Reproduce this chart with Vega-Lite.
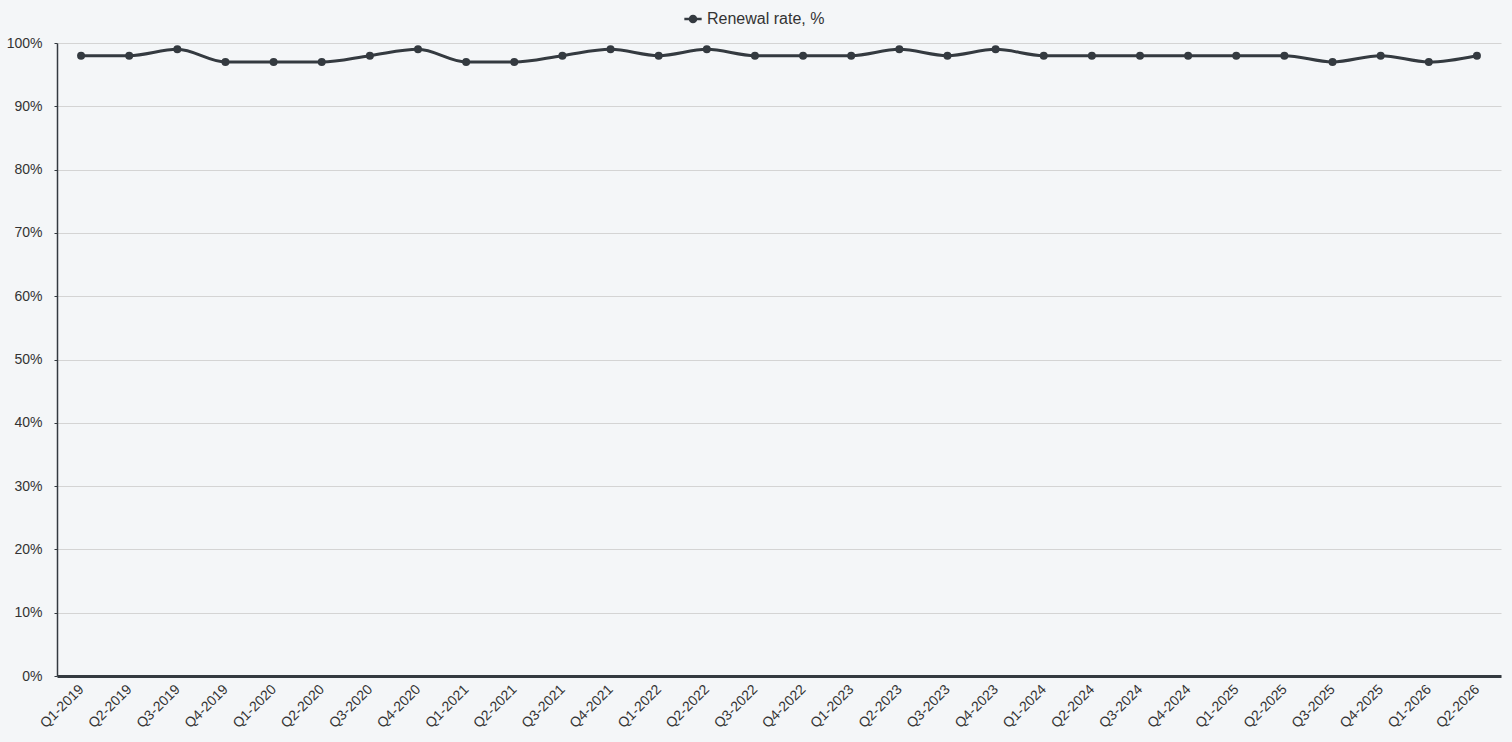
{
  "$schema": "https://vega.github.io/schema/vega-lite/v6.json",
  "autosize": {"type": "none"},
  "width": 1444,
  "height": 633,
  "padding": {"left": 57, "top": 43, "right": 11, "bottom": 66},
  "background": "#f4f6f8",
  "config": {
    "view": {"stroke": null},
    "font": "Liberation Sans"
  },
  "data": {
    "values": [
      {"q": "Q1-2019", "v": 98, "s": "Renewal rate, %"},
      {"q": "Q2-2019", "v": 98, "s": "Renewal rate, %"},
      {"q": "Q3-2019", "v": 99, "s": "Renewal rate, %"},
      {"q": "Q4-2019", "v": 97, "s": "Renewal rate, %"},
      {"q": "Q1-2020", "v": 97, "s": "Renewal rate, %"},
      {"q": "Q2-2020", "v": 97, "s": "Renewal rate, %"},
      {"q": "Q3-2020", "v": 98, "s": "Renewal rate, %"},
      {"q": "Q4-2020", "v": 99, "s": "Renewal rate, %"},
      {"q": "Q1-2021", "v": 97, "s": "Renewal rate, %"},
      {"q": "Q2-2021", "v": 97, "s": "Renewal rate, %"},
      {"q": "Q3-2021", "v": 98, "s": "Renewal rate, %"},
      {"q": "Q4-2021", "v": 99, "s": "Renewal rate, %"},
      {"q": "Q1-2022", "v": 98, "s": "Renewal rate, %"},
      {"q": "Q2-2022", "v": 99, "s": "Renewal rate, %"},
      {"q": "Q3-2022", "v": 98, "s": "Renewal rate, %"},
      {"q": "Q4-2022", "v": 98, "s": "Renewal rate, %"},
      {"q": "Q1-2023", "v": 98, "s": "Renewal rate, %"},
      {"q": "Q2-2023", "v": 99, "s": "Renewal rate, %"},
      {"q": "Q3-2023", "v": 98, "s": "Renewal rate, %"},
      {"q": "Q4-2023", "v": 99, "s": "Renewal rate, %"},
      {"q": "Q1-2024", "v": 98, "s": "Renewal rate, %"},
      {"q": "Q2-2024", "v": 98, "s": "Renewal rate, %"},
      {"q": "Q3-2024", "v": 98, "s": "Renewal rate, %"},
      {"q": "Q4-2024", "v": 98, "s": "Renewal rate, %"},
      {"q": "Q1-2025", "v": 98, "s": "Renewal rate, %"},
      {"q": "Q2-2025", "v": 98, "s": "Renewal rate, %"},
      {"q": "Q3-2025", "v": 97, "s": "Renewal rate, %"},
      {"q": "Q4-2025", "v": 98, "s": "Renewal rate, %"},
      {"q": "Q1-2026", "v": 97, "s": "Renewal rate, %"},
      {"q": "Q2-2026", "v": 98, "s": "Renewal rate, %"}
    ]
  },
  "encoding": {
    "x": {
      "field": "q", "type": "ordinal", "sort": null,
      "scale": {"type": "point", "padding": 0.5},
      "axis": {
        "title": null, "labelAngle": -45, "labelAlign": "right", "labelBaseline": "middle",
        "labelFontSize": 14, "labelColor": "#333333", "labelPadding": 11,
        "ticks": false, "grid": false, "domainColor": "#343a40", "domainWidth": 3
      }
    },
    "y": {
      "field": "v", "type": "quantitative",
      "scale": {"domain": [0, 100], "nice": false},
      "axis": {
        "title": null, "values": [0,10,20,30,40,50,60,70,80,90,100],
        "labelExpr": "datum.value + '%'", "labelFontSize": 14, "labelColor": "#333333",
        "labelPadding": 12, "tickSize": 3, "tickColor": "#343a40",
        "gridColor": "#d4d4d4", "gridWidth": 1, "domainColor": "#343a40", "domainWidth": 1.5
      }
    },
    "color": {
      "field": "s", "type": "nominal",
      "scale": {"range": ["#343a40"]},
      "legend": {
        "title": null, "orient": "none", "legendX": 626, "legendY": -34, "padding": 0,
        "labelFontSize": 16, "labelColor": "#333333",
        "symbolType": "M-1,0L1,0M-0.35,0A0.35,0.35 0 1,1 0.35,0A0.35,0.35 0 1,1 -0.35,0Z",
        "symbolSize": 300, "symbolStrokeWidth": 2.5, "symbolFillColor": "#343a40", "symbolStrokeColor": "#343a40"
      }
    }
  },
  "layer": [
    {"mark": {"type": "line", "interpolate": "monotone", "strokeWidth": 3}},
    {"mark": {"type": "circle", "size": 64, "opacity": 1}}
  ]
}
